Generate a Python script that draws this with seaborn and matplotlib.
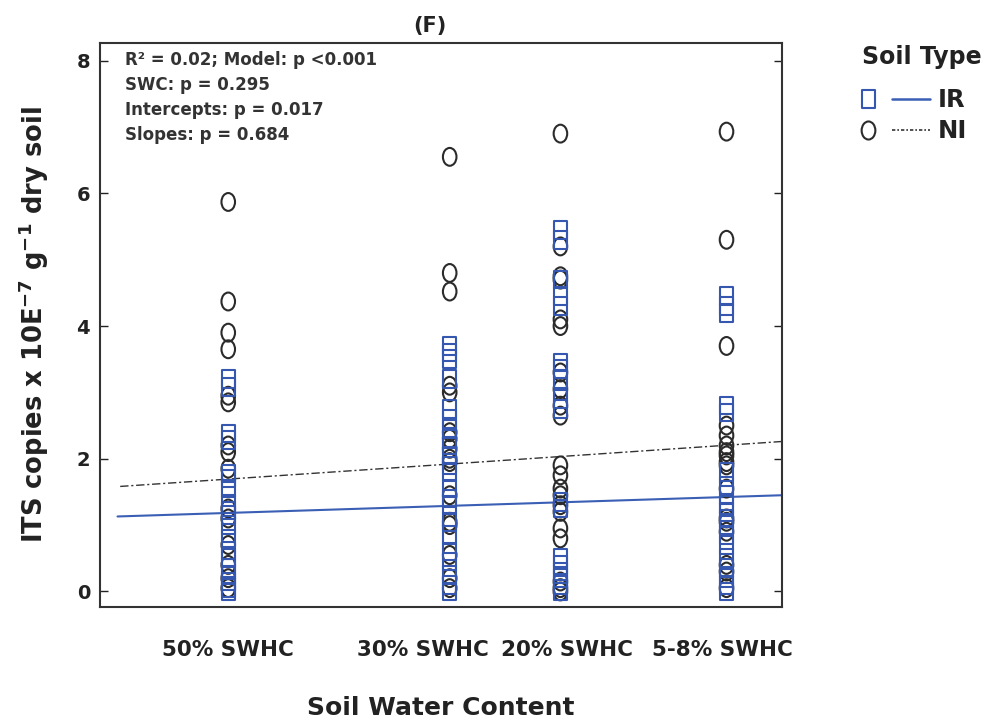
import numpy as np
import pandas as pd
import seaborn as sns
import matplotlib
matplotlib.use("Agg")
import matplotlib.pyplot as plt
from matplotlib.path import Path
from matplotlib.markers import MarkerStyle
from matplotlib.lines import Line2D
from matplotlib.legend_handler import HandlerBase
from matplotlib.transforms import Affine2D

# ---------------- data ----------------
swc_levels = [50, 30, 20, 5]
swc_labels = ["50% SWHC", "30% SWHC", "20% SWHC", "5-8% SWHC"]
label_pos = [50, 32.4, 19.4, 5.4]

ir_50 = [3.2, 3.08, 2.38, 2.28, 1.78, 1.7, 1.55, 1.32, 1.22, 1.15, 1.0, 0.8, 0.62, 0.5, 0.35, 0.25, 0.15, 0.05, 0.0]
ni_50 = [5.87, 4.37, 3.9, 3.65, 2.95, 2.85, 2.2, 2.1, 1.85, 1.25, 1.1, 0.7, 0.4, 0.2, 0.05]
ir_30 = [3.7, 3.6, 3.5, 3.2, 2.75, 2.6, 2.45, 2.3, 2.2, 2.05, 1.9, 1.8, 1.55, 1.4, 1.3, 1.05, 0.85, 0.6, 0.45, 0.25, 0.1, 0.0]
ni_30 = [6.55, 4.8, 4.52, 3.1, 3.0, 2.4, 2.3, 2.15, 2.0, 1.95, 1.45, 1.05, 1.0, 0.55, 0.2, 0.05]
ir_20 = [5.45, 5.3, 4.7, 4.45, 4.3, 3.45, 3.35, 3.2, 2.9, 2.75, 1.35, 1.25, 0.5, 0.4, 0.3, 0.2, 0.1, 0.0]
ni_20 = [6.9, 5.2, 4.75, 4.7, 4.1, 4.0, 3.3, 3.05, 2.8, 2.65, 1.9, 1.75, 1.55, 1.45, 1.3, 1.2, 0.95, 0.8, 0.15, 0.05, 0.0]
ir_5 = [4.45, 4.3, 4.2, 2.8, 2.7, 1.8, 1.6, 1.45, 1.3, 1.2, 1.1, 1.0, 0.85, 0.7, 0.5, 0.35, 0.2, 0.1, 0.0]
ni_5 = [6.93, 5.3, 3.7, 2.5, 2.35, 2.2, 2.1, 2.05, 1.95, 1.9, 1.55, 1.1, 1.05, 0.9, 0.4, 0.3, 0.05]

fit_x = [60, 0]
ir_fit = [1.13, 1.45]
ni_fit = [1.58, 2.26]

stats_lines = ["R\u00b2 = 0.02; Model: p <0.001", "SWC: p = 0.295",
               "Intercepts: p = 0.017", "Slopes: p = 0.684"]

ir_vals = [ir_50, ir_30, ir_20, ir_5]
ni_vals = [ni_50, ni_30, ni_20, ni_5]
rows = []
for lvl, ir, ni in zip(swc_levels, ir_vals, ni_vals):
    rows += [(lvl, v, "IR") for v in ir]
    rows += [(lvl, v, "NI") for v in ni]
df = pd.DataFrame(rows, columns=["swc", "its", "soil"])

# ---------------- style ----------------
sns.set_theme(style="ticks")
plt.rcParams["font.family"] = ["DejaVu Sans"]
plt.rcParams["font.weight"] = "bold"
plt.rcParams["mathtext.default"] = "bf"

IR_C = "#3557b0"
NI_C = "#2b2b2b"
TXT = "#222222"

# vertically elongated markers
sq = Path([(-0.36, -0.5), (0.36, -0.5), (0.36, 0.5), (-0.36, 0.5), (-0.36, -0.5)],
          [Path.MOVETO, Path.LINETO, Path.LINETO, Path.LINETO, Path.CLOSEPOLY])
circ = Path.unit_circle().transformed(Affine2D().scale(0.76, 1.0))
m_sq = MarkerStyle(sq)
m_ci = MarkerStyle(circ)


class MarkerThenLine(HandlerBase):
    """Legend entry: marker on the left, short line segment on the right."""
    def create_artists(self, legend, orig_handle, xdescent, ydescent,
                       width, height, fontsize, trans):
        mk, ln = orig_handle
        x0 = -xdescent
        y = -ydescent + height / 2
        m = Line2D([x0 + 0.09 * width], [y])
        m.update_from(mk)
        m.set_transform(trans)
        seg = Line2D([x0 + 0.44 * width, x0 + width], [y, y])
        seg.update_from(ln)
        seg.set_transform(trans)
        return [m, seg]


fig = plt.figure(figsize=(9.98, 7.24), dpi=100)
ax = fig.add_axes([0.100, 0.162, 0.684, 0.779])

sns.scatterplot(data=df[df.soil == "NI"], x="swc", y="its", marker=m_ci, s=165,
                facecolors="none", edgecolor=NI_C, linewidth=1.5, ax=ax, legend=False, zorder=3)
sns.scatterplot(data=df[df.soil == "IR"], x="swc", y="its", marker=m_sq, s=160,
                facecolors="none", edgecolor=IR_C, linewidth=1.5, ax=ax, legend=False, zorder=3)

sns.lineplot(x=fit_x, y=ir_fit, color="#3a5fb5", lw=1.5, ax=ax, zorder=2)
sns.lineplot(x=fit_x, y=ni_fit, color="#333333", lw=1.0, ax=ax, zorder=2,
             linestyle=(0, (6, 2, 1.5, 2)))

ax.set_xlim(61.6, -0.05)
ax.set_ylim(-0.23, 8.27)
ax.set_yticks([0, 2, 4, 6, 8])
ax.set_xticks(label_pos)
ax.set_xticklabels(swc_labels, fontsize=15.5, fontweight="bold")
ax.tick_params(axis="x", length=0, pad=24, colors=TXT)
ax.tick_params(axis="y", direction="in", length=6, width=1, labelsize=14,
               right=True, left=True, pad=7, colors=TXT)
for lab in ax.get_yticklabels():
    lab.set_fontweight("bold")
for sp in ax.spines.values():
    sp.set_linewidth(1.5)
    sp.set_color("#333333")

ax.set_xlabel("Soil Water Content", fontsize=18, fontweight="bold", color=TXT)
ax.xaxis.set_label_coords(0.5, -0.158)
ax.set_ylabel("ITS copies x 10E$^{-7}$ g$^{-1}$ dry soil", fontsize=18.5,
              fontweight="bold", color=TXT)
ax.yaxis.set_label_coords(-0.072, 0.5)
ax.set_title("(F)", fontsize=15, fontweight="bold", pad=8, color=TXT, x=0.484)

for i, t in enumerate(stats_lines):
    ax.text(0.037, 0.970 - i * 0.0443, t, transform=ax.transAxes, fontsize=12,
            fontweight="bold", va="center", ha="left", color="#333333")

h_ir = (Line2D([], [], marker=m_sq, ls="none", mfc="none", mec=IR_C, mew=1.5, ms=13),
        Line2D([], [], color="#3a5fb5", lw=1.8))
h_ni = (Line2D([], [], marker=m_ci, ls="none", mfc="none", mec=NI_C, mew=1.5, ms=13),
        Line2D([], [], color="#333333", lw=1.2, ls=(0, (2, 1.2, 1, 1.2))))
leg = fig.legend([h_ir, h_ni], ["IR", "NI"], title="Soil Type",
                 handler_map={tuple: MarkerThenLine()},
                 loc="upper left", bbox_to_anchor=(0.8587, 0.945), frameon=False,
                 handlelength=2.8, handletextpad=0.33, labelspacing=0.3,
                 borderpad=0.2, borderaxespad=0.0, alignment="left",
                 prop={"weight": "bold", "size": 17.5},
                 title_fontproperties={"weight": "bold", "size": 17})
leg._legend_box.sep = 14
for t in leg.get_texts():
    t.set_color(TXT)
leg.get_title().set_color(TXT)

fig.savefig("out.png", dpi=100)
